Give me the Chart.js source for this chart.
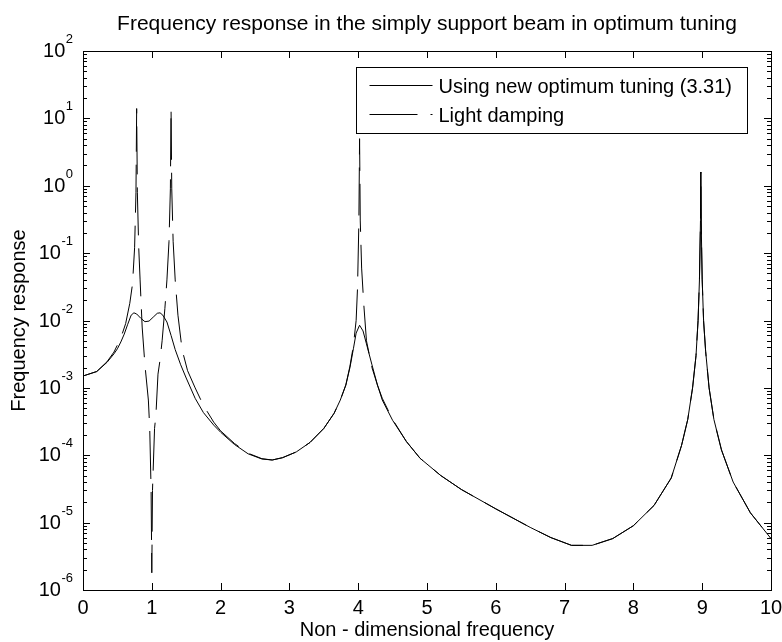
<!DOCTYPE html>
<html>
<head>
<meta charset="utf-8">
<script src="https://cdn.jsdelivr.net/npm/chart.js@4.4.0/dist/chart.umd.min.js"></script>
<style>
  html, body { margin: 0; padding: 0; background: #fff; }
  #wrap { width: 782px; height: 642px; }
</style>
</head>
<body>
<div id="wrap"><canvas id="responseChart" width="782" height="642"></canvas></div>
<script>
// values
const titleText = 'Frequency response in the simply support beam in optimum tuning';
const xTitle = 'Non - dimensional frequency';
const yTitle = 'Frequency response';
const xTicks = [0, 1, 2, 3, 4, 5, 6, 7, 8, 9, 10];
const yExponents = [-6, -5, -4, -3, -2, -1, 0, 1, 2];

const optimumLabel = 'Using new optimum tuning (3.31)';
const optimumX = [0, 0.2, 0.35, 0.45, 0.5, 0.55, 0.6, 0.65, 0.7, 0.74, 0.78, 0.84, 0.9, 0.96, 1.02, 1.08, 1.12, 1.16, 1.22, 1.28,
  1.34, 1.42, 1.5, 1.63, 1.75, 1.9, 2.0, 2.2, 2.4, 2.6, 2.75, 2.9, 3.1, 3.3, 3.5, 3.65, 3.74, 3.82, 3.88, 3.93,
  3.97, 4.02, 4.07, 4.12, 4.2, 4.28, 4.35, 4.5, 4.7, 4.9, 5.2, 5.5, 6.0, 6.5, 6.8, 7.1, 7.4, 7.7, 8.0, 8.3,
  8.55, 8.7, 8.79, 8.86, 8.91, 8.94, 8.96, 8.975, 8.98, 8.985, 9.0, 9.02, 9.05, 9.1, 9.17, 9.28, 9.45, 9.7, 10];
const optimumY = [1.5e-3, 1.75e-3, 2.4e-3, 3.2e-3, 3.8e-3, 4.8e-3, 6.3e-3, 8.8e-3, 1.2e-2, 1.3e-2, 1.25e-2, 1.08e-2, 9.6e-3, 9.8e-3, 1.12e-2, 1.28e-2, 1.3e-2, 1.2e-2, 9.5e-3, 6e-3,
  3.7e-3, 2.2e-3, 1.4e-3, 7e-4, 4.3e-4, 2.8e-4, 2.2e-4, 1.45e-4, 1.05e-4, 8.8e-5, 8.5e-5, 9.2e-5, 1.12e-4, 1.55e-4, 2.5e-4, 4.2e-4, 6.6e-4, 1.1e-3, 2e-3, 3.8e-3,
  6.5e-3, 8.5e-3, 7e-3, 4.5e-3, 2.2e-3, 1.1e-3, 6.6e-4, 3.3e-4, 1.6e-4, 9e-5, 5e-5, 3.1e-5, 1.6e-5, 8.5e-6, 6e-6, 4.6e-6, 4.6e-6, 5.8e-6, 9e-6, 1.8e-5,
  4.6e-5, 1.4e-4, 3.4e-4, 1e-3, 3e-3, 1e-2, 4e-2, 0.3, 1.6, 0.3, 4e-2, 1e-2, 3.5e-3, 1e-3, 3.4e-4, 1.2e-4, 4e-5, 1.4e-5, 5.8e-6];

const lightLabel = 'Light damping';
const lightX = [0, 0.2, 0.35, 0.45, 0.55, 0.62, 0.68, 0.72, 0.75, 0.77, 0.78, 0.79, 0.81, 0.83, 0.86, 0.9, 0.95, 0.97, 0.99, 1.0,
  1.01, 1.04, 1.06, 1.09, 1.12, 1.15, 1.19, 1.22, 1.25, 1.27, 1.28, 1.29, 1.31, 1.34, 1.38, 1.44, 1.52, 1.63, 1.75, 1.9,
  2.0, 2.2, 2.4, 2.6, 2.75, 2.9, 3.1, 3.3, 3.5, 3.65, 3.74, 3.82, 3.88, 3.93, 3.97, 3.99, 4.01, 4.02, 4.03, 4.05,
  4.08, 4.12, 4.2, 4.28, 4.35, 4.5, 4.7, 4.9, 5.2, 5.5, 6.0, 6.5, 6.8, 7.1, 7.4, 7.7, 8.0, 8.3, 8.55, 8.7,
  8.79, 8.86, 8.91, 8.94, 8.96, 8.975, 8.98, 8.985, 9.0, 9.02, 9.05, 9.1, 9.17, 9.28, 9.45, 9.7, 10];
const lightY = [1.5e-3, 1.75e-3, 2.45e-3, 3.4e-3, 5.5e-3, 9e-3, 1.8e-2, 3.5e-2, 0.12, 0.8, 14, 0.8, 0.12, 4e-2, 8e-3, 2.2e-3, 6.6e-4, 2.5e-4, 3e-5, 1.8e-6,
  3e-5, 2.5e-4, 4e-4, 1.6e-3, 2.6e-3, 5e-3, 1.5e-2, 4e-2, 0.15, 0.9, 14, 0.9, 0.15, 4e-2, 1.2e-2, 3.7e-3, 1.8e-3, 1e-3, 5.5e-4, 3.1e-4,
  2.3e-4, 1.5e-4, 1.07e-4, 8.9e-5, 8.5e-5, 9.2e-5, 1.12e-4, 1.55e-4, 2.5e-4, 4.2e-4, 6.6e-4, 1.1e-3, 2.1e-3, 4.2e-3, 1e-2, 3e-2, 0.3, 5, 0.3, 6e-2,
  1.8e-2, 5e-3, 2e-3, 1.1e-3, 7e-4, 3.4e-4, 1.6e-4, 9e-5, 5e-5, 3.1e-5, 1.6e-5, 8.5e-6, 6e-6, 4.6e-6, 4.6e-6, 5.8e-6, 9e-6, 1.8e-5, 4.6e-5, 1.4e-4,
  3.4e-4, 1e-3, 3e-3, 1e-2, 4e-2, 0.3, 1.6, 0.3, 4e-2, 1e-2, 3.5e-3, 1e-3, 3.4e-4, 1.2e-4, 4e-5, 1.4e-5, 5.8e-6];

const FONT = "'Liberation Sans', Arial, Helvetica, sans-serif";
const dashPattern = [48, 13];

const toPoints = (xs, ys) => xs.map((x, i) => ({ x: x, y: ys[i] }));

// MATLAB-like box, inward ticks, labels and legend drawn on the chart's scales
const matlabAxes = {
  id: 'matlabAxes',
  afterDraw: (chart) => {
    const { ctx, chartArea: { top, bottom, left, right }, scales: { x, y } } = chart;
    ctx.save();
    ctx.strokeStyle = '#000';
    ctx.fillStyle = '#000';
    ctx.lineWidth = 1;

    // box
    ctx.strokeRect(left + 0.5, top + 0.5, right - left, bottom - top);

    // x ticks
    ctx.beginPath();
    xTicks.forEach(v => {
      const px = Math.round(x.getPixelForValue(v)) + 0.5;
      ctx.moveTo(px, bottom); ctx.lineTo(px, bottom - 7);
      ctx.moveTo(px, top); ctx.lineTo(px, top + 7);
    });
    // y ticks, major and minor
    yExponents.forEach(e => {
      for (let m = 1; m <= 9; m++) {
        if (e === yExponents[yExponents.length - 1] && m > 1) break;
        const py = Math.round(y.getPixelForValue(m * Math.pow(10, e))) + 0.5;
        const len = m === 1 ? 7 : 4;
        ctx.moveTo(left, py); ctx.lineTo(left + len, py);
        ctx.moveTo(right, py); ctx.lineTo(right - len, py);
      }
    });
    ctx.stroke();

    // x tick labels
    ctx.font = '20px ' + FONT;
    ctx.textAlign = 'center';
    ctx.textBaseline = 'alphabetic';
    xTicks.forEach(v => {
      ctx.fillText(String(v), x.getPixelForValue(v), bottom + 24);
    });

    // y tick labels 10^e
    yExponents.forEach(e => {
      const py = y.getPixelForValue(Math.pow(10, e));
      const sup = String(e);
      ctx.font = '13px ' + FONT;
      const sw = ctx.measureText(sup).width;
      const edge = left - 10;
      ctx.textAlign = 'left';
      ctx.fillText(sup, edge - sw, py - 8);
      ctx.font = '20px ' + FONT;
      ctx.textAlign = 'right';
      ctx.fillText('10', edge - sw - 0.5, py + 6);
    });

    // titles
    ctx.textAlign = 'center';
    ctx.font = '21px ' + FONT;
    ctx.fillText(titleText, (left + right) / 2, 30);
    ctx.font = '20px ' + FONT;
    ctx.fillText(xTitle, (left + right) / 2, 636);
    ctx.save();
    ctx.translate(25, (top + bottom) / 2);
    ctx.rotate(-Math.PI / 2);
    ctx.fillText(yTitle, 0, 0);
    ctx.restore();

    // legend box in the upper right corner
    const bx = right - 24 + 0.5 - 391, by = top + 16 + 0.5, bw = 391, bh = 66;
    ctx.fillStyle = '#fff';
    ctx.fillRect(bx, by, bw, bh);
    ctx.strokeRect(bx, by, bw, bh);
    const rows = [chart.data.datasets[0], chart.data.datasets[1]];
    rows.forEach((ds, i) => {
      const ly = Math.round(by + 17 + i * 29) + 0.5;
      ctx.beginPath();
      ctx.setLineDash(ds.borderDash || []);
      ctx.moveTo(bx + 13, ly);
      ctx.lineTo(bx + 76, ly);
      ctx.stroke();
      ctx.setLineDash([]);
      ctx.fillStyle = '#000';
      ctx.font = '20px ' + FONT;
      ctx.textAlign = 'left';
      ctx.fillText(ds.label, bx + 82, ly + 7);
    });
    ctx.restore();
  }
};

new Chart(document.getElementById('responseChart').getContext('2d'), {
  type: 'line',
  plugins: [matlabAxes],
  data: {
    datasets: [
      {
        label: optimumLabel,
        data: toPoints(optimumX, optimumY),
        borderColor: '#000',
        borderWidth: 1,
        pointRadius: 0,
        tension: 0,
        fill: false
      },
      {
        label: lightLabel,
        data: toPoints(lightX, lightY),
        borderColor: '#000',
        borderWidth: 1,
        borderDash: dashPattern,
        pointRadius: 0,
        tension: 0,
        fill: false
      }
    ]
  },
  options: {
    responsive: false,
    animation: false,
    layout: { padding: { left: 83, right: 11, top: 51, bottom: 52 } },
    plugins: {
      legend: { display: false },
      tooltip: { enabled: false },
      title: { display: false }
    },
    scales: {
      x: { type: 'linear', min: 0, max: 10, display: false },
      y: { type: 'logarithmic', min: 1e-6, max: 1e2, display: false }
    }
  }
});
</script>
</body>
</html>
